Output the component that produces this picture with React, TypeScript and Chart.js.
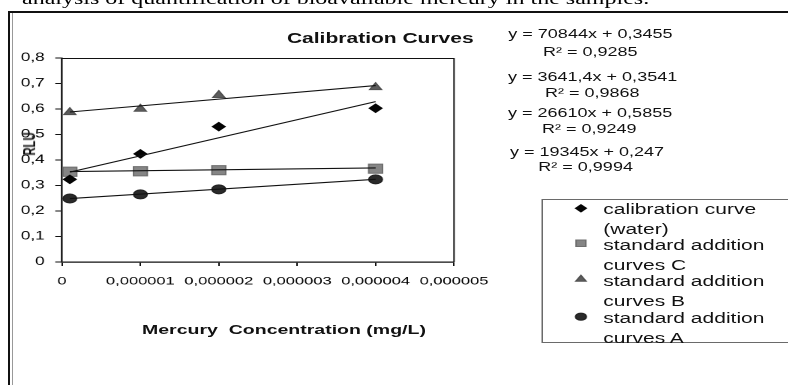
import React, { useEffect, useRef } from 'react';
import { Chart, registerables } from 'chart.js';
import { drawPoint } from 'chart.js/helpers';

Chart.register(...registerables);

// ---- data ----
const xValues = [0.0000001, 0.000001, 0.000002, 0.000004];
const waterValues = [0.324, 0.424, 0.531, 0.603];
const curveCValues = [0.354, 0.356, 0.36, 0.366];
const curveBValues = [0.587, 0.6, 0.654, 0.685];
const curveAValues = [0.249, 0.265, 0.285, 0.324];

const trendX = [0.0000001, 0.000004];
const waterTrend = [0.3526, 0.6289];
const curveCTrend = [0.3545, 0.3687];
const curveBTrend = [0.5882, 0.6919];
const curveATrend = [0.2489, 0.3244];

const xTickValues = [0, 0.000001, 0.000002, 0.000003, 0.000004, 0.000005];
const xTickLabels = ['0', '0,000001', '0,000002', '0,000003', '0,000004', '0,000005'];
const yTickValues = [0, 0.1, 0.2, 0.3, 0.4, 0.5, 0.6, 0.7, 0.8];
const yTickLabels = ['0', '0,1', '0,2', '0,3', '0,4', '0,5', '0,6', '0,7', '0,8'];

const seriesNames = [
  ['calibration curve', '(water)'],
  ['standard addition', 'curves C'],
  ['standard addition', 'curves B'],
  ['standard addition', 'curves A'],
];
const equations = ['y = 70844x + 0,3455', 'y = 3641,4x + 0,3541', 'y = 26610x + 0,5855', 'y = 19345x + 0,247'];
const rSquared = ['R² = 0,9285', 'R² = 0,9868', 'R² = 0,9249', 'R² = 0,9994'];

const chartTitle = 'Calibration Curves';
const xTitle = 'Mercury  Concentration (mg/L)';
const yTitle = 'RLU';
const captionText = 'analysis of quantification of bioavailable mercury in the samples.';

// ---- styles ----
const S = 1.5; // horizontal stretch of the scanned figure
const FONT = '"Liberation Sans", Arial, Helvetica, sans-serif';

const markerStyles = [
  { pointStyle: 'rectRot', radius: 4.2, color: '#050505', border: '#050505', legendRadius: 3.6 },
  { pointStyle: 'rect', radius: 6.5, color: '#858585', border: '#6e6e6e', legendRadius: 4.6 },
  { pointStyle: 'triangle', radius: 4.6, color: '#5c5c5c', border: '#505050', legendRadius: 4 },
  { pointStyle: 'circle', radius: 4.5, color: '#2a2a2a', border: '#222', legendRadius: 3.6 },
];
const legendMarkerX = 387.3;
const legendMarkerY = [208.3, 243.3, 279.3, 316.7];
const legendLineTops = [
  [201.5, 221.5],
  [237.5, 257.5],
  [274.2, 294.2],
  [310.9, 330.9],
];
const eqTops = [
  [28.3, 45.8],
  [70.5, 87.1],
  [107.1, 122.8],
  [145.8, 160.8],
];
const eqLefts = [338.9, 338.7, 338.7, 340];
const r2Lefts = [362, 363.3, 361.3, 358.9];

const plotFrame = {
  id: 'plotFrame',
  beforeDatasetsDraw(chart: any) {
    const { ctx, chartArea: a } = chart;
    ctx.save();
    ctx.strokeStyle = '#111';
    ctx.lineWidth = 1;
    ctx.beginPath();
    ctx.moveTo(a.left, a.top + 0.5);
    ctx.lineTo(a.right, a.top + 0.5);
    ctx.lineTo(a.right, a.bottom);
    ctx.stroke();
    ctx.restore();
  },
};

const legendMarkers = {
  id: 'legendMarkers',
  afterDraw(chart: any) {
    const { ctx } = chart;
    ctx.save();
    markerStyles.forEach((m, i) => {
      ctx.fillStyle = m.color;
      ctx.strokeStyle = m.border;
      drawPoint(ctx, { pointStyle: m.pointStyle, radius: m.legendRadius, rotation: 0, borderWidth: 1 } as any, legendMarkerX, legendMarkerY[i]);
    });
    ctx.restore();
  },
};

function pts(xs: number[], ys: number[]) {
  return xs.map((x, i) => ({ x, y: ys[i] }));
}

export default function App() {
  const ref = useRef<HTMLCanvasElement | null>(null);

  useEffect(() => {
    if (!ref.current) return;
    const seriesValues = [waterValues, curveCValues, curveBValues, curveAValues];
    const trends = [waterTrend, curveCTrend, curveBTrend, curveATrend];
    const markerSets = seriesValues.map((vals, i) => ({
      type: 'scatter' as const,
      label: seriesNames[i].join(' '),
      data: pts(xValues, vals),
      showLine: false,
      pointStyle: markerStyles[i].pointStyle,
      pointRadius: markerStyles[i].radius,
      pointBackgroundColor: markerStyles[i].color,
      pointBorderColor: markerStyles[i].border,
      pointBorderWidth: 1,
      order: 2,
    }));
    const trendSets = trends.map((vals, i) => ({
      type: 'line' as const,
      label: 'trend ' + (i + 1),
      data: pts(trendX, vals),
      borderColor: '#111',
      borderWidth: 1.1,
      pointRadius: 0,
      fill: false,
      order: 1,
    }));

    const chart = new Chart(ref.current, {
      type: 'scatter',
      data: { datasets: [...markerSets, ...trendSets] as any },
      options: {
        animation: false,
        responsive: false,
        devicePixelRatio: 2,
        layout: { padding: { left: 11.33, right: 223.33, top: 58, bottom: 83 } },
        plugins: { legend: { display: false }, title: { display: false }, tooltip: { enabled: false } },
        scales: {
          x: {
            type: 'linear',
            min: 0,
            max: 0.000005,
            afterBuildTicks: (s: any) => {
              s.ticks = xTickValues.map((v) => ({ value: v }));
            },
            afterFit: (s: any) => {
              s.height = 40;
            },
            ticks: {
              callback: (_v: any, i: number) => xTickLabels[i],
              font: { family: FONT, size: 11 },
              color: '#000',
              padding: 9,
              maxRotation: 0,
              autoSkip: false,
            },
            grid: { display: true, drawOnChartArea: false, drawTicks: true, tickLength: 4, color: '#111', lineWidth: 1 },
            border: { display: true, color: '#111', width: 1.3 },
          },
          y: {
            type: 'linear',
            min: 0,
            max: 0.8,
            afterBuildTicks: (s: any) => {
              s.ticks = yTickValues.map((v) => ({ value: v }));
            },
            afterFit: (s: any) => {
              s.width = 30;
            },
            ticks: {
              callback: (_v: any, i: number) => yTickLabels[i],
              font: { family: FONT, size: 11.5 },
              color: '#000',
              padding: 7,
              autoSkip: false,
            },
            grid: { display: true, drawOnChartArea: false, drawTicks: true, tickLength: 4.5, color: '#111', lineWidth: 1 },
            border: { display: true, color: '#222', width: 1.3 },
          },
        },
      },
      plugins: [plotFrame, legendMarkers],
    });
    return () => chart.destroy();
  }, []);

  const txt = (size: number, bold = false): React.CSSProperties => ({
    position: 'absolute',
    fontFamily: FONT,
    fontSize: size,
    lineHeight: `${size}px`,
    fontWeight: bold ? 700 : 400,
    whiteSpace: 'pre',
    color: '#111',
    margin: 0,
  });

  return (
    <div style={{ position: 'absolute', left: 0, top: 0, width: 788, height: 385, overflow: 'hidden', background: '#fff' }}>
      <div style={{ position: 'absolute', left: 8, top: 11, width: 780, height: 1.5, background: '#111' }} />
      <div style={{ position: 'absolute', left: 8, top: 11, width: 2, height: 374, background: '#111' }} />
      <div style={{ position: 'absolute', left: 11.7, top: 12.5, width: 1.2, height: 373, background: '#999' }} />
      <div
        style={{
          position: 'absolute',
          left: 0,
          top: 0,
          width: 526,
          height: 385,
          transform: `scaleX(${S})`,
          transformOrigin: '0 0',
        }}
      >
        <canvas ref={ref} width={526} height={385} style={{ position: 'absolute', left: 0, top: 0, width: 526, height: 385 }} />
        <div
          style={{
            position: 'absolute',
            left: 14.7,
            top: -9.4,
            fontFamily: '"Liberation Serif", "Times New Roman", serif',
            fontSize: 16,
            lineHeight: '16px',
            whiteSpace: 'pre',
            color: '#000',
          }}
        >
          {captionText}
        </div>
        <div style={{ ...txt(14, true), left: 191.3, top: 30.9 }}>{chartTitle}</div>
        <div style={{ ...txt(13, true), left: 94.7, top: 323 }}>{xTitle}</div>
        <div
          style={{
            ...txt(11.2, true),
            left: 20,
            top: 143.5,
            transform: 'translate(-50%, -50%) rotate(-90deg)',
          }}
        >
          {yTitle}
        </div>
        {equations.map((eq, i) => (
          <React.Fragment key={'eq' + i}>
            <div style={{ ...txt(12), left: eqLefts[i], top: eqTops[i][0] }}>{eq}</div>
            <div style={{ ...txt(12), left: r2Lefts[i], top: eqTops[i][1] }}>{rSquared[i]}</div>
          </React.Fragment>
        ))}
        <div
          style={{
            position: 'absolute',
            left: 360.7,
            top: 198.5,
            width: 200,
            height: 144,
            border: '1px solid #6a6a6a',
            boxSizing: 'border-box',
          }}
        />
        {seriesNames.map((lines, i) => (
          <React.Fragment key={'lg' + i}>
            <div style={{ ...txt(14), left: 402.2, top: legendLineTops[i][0] }}>{lines[0]}</div>
            <div style={{ ...txt(14), left: 402.2, top: legendLineTops[i][1] }}>{lines[1]}</div>
          </React.Fragment>
        ))}
      </div>
    </div>
  );
}
